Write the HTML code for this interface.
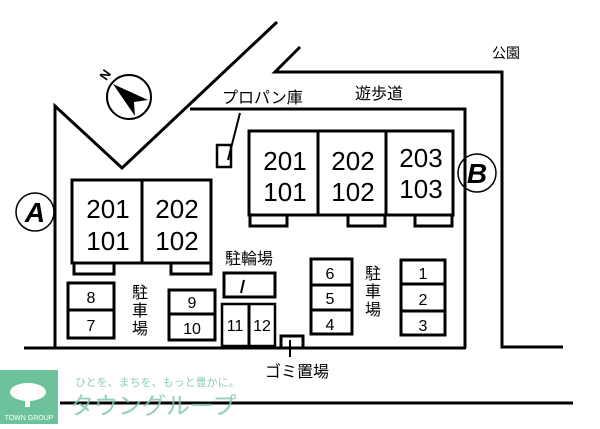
<!DOCTYPE html>
<html><head><meta charset="utf-8"><style>
html,body{margin:0;padding:0;background:#fff}
svg text{font-family:"Liberation Sans","Noto Sans CJK JP",sans-serif;fill:#000}
</style></head><body>
<svg width="600" height="424" viewBox="0 0 600 424" xmlns="http://www.w3.org/2000/svg">
<g fill="none" stroke="#000" stroke-width="3">
<polyline points="55,348 55,106 122,168 277,22"/>
<polyline points="300,47 275,72 502,72 502,347 563,347"/>
<polyline points="190,109 465,109 465,348"/>
<line x1="24" y1="348" x2="466" y2="348"/>
<line x1="60" y1="403" x2="573" y2="403"/>
<!-- left building -->
<rect x="72" y="180" width="139" height="83"/>
<line x1="142" y1="180" x2="142" y2="263"/>
<rect x="74" y="263" width="40" height="11"/>
<rect x="171" y="263" width="40" height="11"/>
<!-- right building -->
<rect x="249" y="131" width="204" height="84"/>
<line x1="318" y1="131" x2="318" y2="215"/>
<line x1="386" y1="131" x2="386" y2="215"/>
<rect x="250" y="215" width="37" height="11"/>
<rect x="348" y="215" width="37" height="11"/>
<rect x="415" y="215" width="37" height="11"/>
<!-- parking -->
<rect x="68" y="283" width="46" height="55"/><line x1="68" y1="310" x2="114" y2="310"/>
<rect x="169" y="290" width="46" height="50"/><line x1="169" y1="314" x2="215" y2="314"/>
<rect x="224" y="273" width="51" height="24"/>
<rect x="222" y="304" width="53" height="42" stroke-width="2.5"/><line x1="249" y1="304" x2="249" y2="346"/>
<rect x="281" y="336" width="22" height="12"/>
<rect x="311" y="259" width="41" height="75"/><line x1="311" y1="285" x2="352" y2="285"/><line x1="311" y1="310" x2="352" y2="310"/>
<rect x="401" y="260" width="44" height="75"/><line x1="401" y1="284" x2="445" y2="284"/><line x1="401" y1="311" x2="445" y2="311"/>
<rect x="217" y="145" width="14" height="22" stroke-width="2.5"/>
</g>
<g stroke="#000" stroke-width="2">
<line x1="228" y1="160" x2="240" y2="113"/>
<line x1="244" y1="280" x2="241" y2="293"/>
<line x1="290" y1="340" x2="290" y2="357"/>
</g>
<!-- compass -->
<circle cx="129" cy="97" r="22" fill="none" stroke="#000" stroke-width="2"/>
<polygon points="113,84 148,100 134,102 135,116" fill="#000"/>
<text x="103" y="83" font-size="13" font-weight="bold" transform="rotate(-55 103 79)">N</text>
<!-- circles -->
<circle cx="35" cy="212" r="19" fill="none" stroke="#000" stroke-width="1.5"/>
<text x="35" y="222" font-size="28" font-weight="bold" font-style="italic" text-anchor="middle">A</text>
<circle cx="477" cy="173" r="19" fill="none" stroke="#000" stroke-width="1.5"/>
<text x="477" y="183" font-size="28" font-weight="bold" font-style="italic" text-anchor="middle">B</text>
<!-- unit labels -->
<g font-size="26" text-anchor="middle">
<text x="108" y="218">201</text><text x="108" y="250">101</text>
<text x="177" y="218">202</text><text x="177" y="250">102</text>
<text x="285" y="170">201</text><text x="285" y="201">101</text>
<text x="353" y="170">202</text><text x="353" y="201">102</text>
<text x="421" y="167">203</text><text x="421" y="198">103</text>
</g>
<g font-size="16" text-anchor="middle">
<text x="91" y="303">8</text><text x="91" y="331">7</text>
<text x="192" y="308">9</text><text x="192" y="334">10</text>
<text x="235" y="331">11</text><text x="262" y="331">12</text>
<text x="330" y="279">6</text><text x="330" y="304">5</text><text x="330" y="330">4</text>
<text x="423" y="279">1</text><text x="423" y="305">2</text><text x="423" y="331">3</text>
</g>
<g font-size="16" text-anchor="middle">
<text x="140" y="298">駐</text><text x="140" y="316">車</text><text x="140" y="334">場</text>
<text x="373" y="279">駐</text><text x="373" y="297">車</text><text x="373" y="315">場</text>
</g>
<g font-size="16">
<text x="222" y="103">プロパン庫</text>
<text x="355" y="99">遊歩道</text>
<text x="492" y="58" font-size="14">公園</text>
<text x="225" y="264">駐輪場</text>
<text x="265" y="377">ゴミ置場</text>
</g>
<!-- logo -->
<rect x="0" y="370" width="58" height="54" fill="#6cc39b"/>
<ellipse cx="28" cy="392" rx="18" ry="9" fill="#fff"/>
<rect x="25" y="395" width="5" height="12" fill="#fff"/>
<text x="29" y="420" font-size="7" text-anchor="middle" style="fill:#fff">TOWN GROUP</text>
<text x="75" y="386" font-size="11" style="fill:#8fd0b3">ひとを、まちを、もっと豊かに。</text>
<text x="70" y="414" font-size="24" style="fill:#7fcaa8" opacity="0.85">タウングループ</text>
</svg>
</body></html>
